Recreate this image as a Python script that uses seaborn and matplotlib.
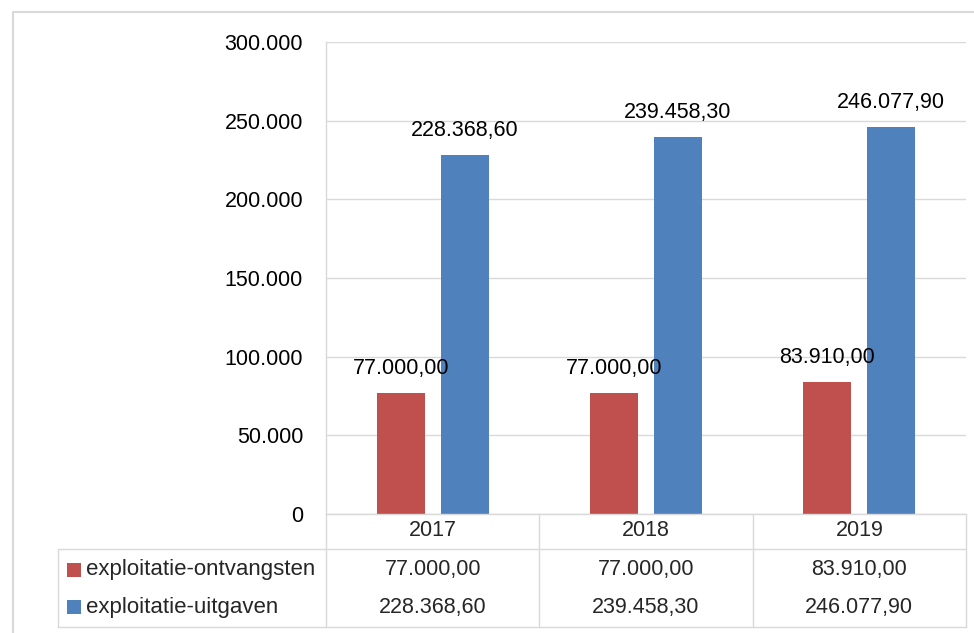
import matplotlib
matplotlib.use("Agg")
import matplotlib.pyplot as plt
import matplotlib.transforms as mtransforms
from matplotlib.lines import Line2D
from matplotlib.patches import Rectangle
import seaborn as sns
import pandas as pd

# Data
years = ["2017", "2018", "2019"]
series_names = ["exploitatie-ontvangsten", "exploitatie-uitgaven"]
ontvangsten = [77000.00, 77000.00, 83910.00]
uitgaven = [228368.60, 239458.30, 246077.90]
colors = ["#C0504D", "#4F81BD"]
y_ticks = [0, 50000, 100000, 150000, 200000, 250000, 300000]

W, H = 974, 633
GRID = "#d9d9d9"
FS = 15.5


def nl(v, dec=2):
    # Dutch number format: 228.368,60
    s = f"{v:,.{dec}f}"
    return s.replace(",", "X").replace(".", ",").replace("X", ".")


sns.set_theme(style="white")
plt.rcParams["font.family"] = ["Liberation Sans", "DejaVu Sans"]

df = pd.DataFrame(
    {
        "year": years * 2,
        "series": [series_names[0]] * len(years) + [series_names[1]] * len(years),
        "value": ontvangsten + uitgaven,
    }
)

fig = plt.figure(figsize=(W / 100, H / 100), dpi=100)
ax = fig.add_axes([326 / W, (H - 514) / H, (966 - 326) / W, (514 - 42) / H])

sns.barplot(
    data=df,
    x="year",
    y="value",
    hue="series",
    order=years,
    hue_order=series_names,
    palette=colors,
    width=0.6,
    gap=0.25,
    saturation=1,
    errorbar=None,
    linewidth=0,
    legend=False,
    ax=ax,
)

ax.set_xlim(-0.5, len(years) - 0.5)
ax.set_ylim(0, 300000)
ax.set_yticks(y_ticks)
ax.set_yticklabels([nl(v, 0) for v in y_ticks])
ax.tick_params(axis="y", length=0, pad=16.5, labelsize=FS, labelcolor="black")
ax.set_xticks([])
ax.set_xlabel("")
ax.set_ylabel("")
ax.yaxis.grid(True, color=GRID, linewidth=1.0)
ax.set_axisbelow(True)
for side in ["top", "right"]:
    ax.spines[side].set_visible(False)
for side in ["left", "bottom"]:
    ax.spines[side].set_color(GRID)
    ax.spines[side].set_linewidth(1.0)

# value labels above bars
for cont, vals in zip(ax.containers, [ontvangsten, uitgaven]):
    ax.bar_label(cont, labels=[nl(v) for v in vals], padding=10, fontsize=FS, color="black")

# pixel transform (y downwards)
px = mtransforms.Affine2D().scale(1 / W, -1 / H).translate(0, 1) + fig.transFigure
colx = mtransforms.blended_transform_factory(ax.transData, px)


def line(xs, ys, tr=px):
    fig.add_artist(Line2D(xs, ys, transform=tr, color=GRID, linewidth=1.0))


# data table
for i in range(len(years)):
    line([i + 0.5, i + 0.5], [514, 627], colx)
line([-0.5, -0.5], [514, 627], colx)
line([58, 966], [549, 549])
line([58, 966], [627, 627])
line([58, 58], [549, 627])

row_y = [570, 607]
for i, yr in enumerate(years):
    fig.text(i, 531, yr, transform=colx, ha="center", va="center", fontsize=FS)
    fig.text(i, row_y[0], nl(ontvangsten[i]), transform=colx, ha="center", va="center", fontsize=FS)
    fig.text(i, row_y[1], nl(uitgaven[i]), transform=colx, ha="center", va="center", fontsize=FS)

for name, c, y in zip(series_names, colors, row_y):
    # y axis of px points down, so anchor at the top of the key
    fig.add_artist(Rectangle((67, y - 7), 14, 14, transform=px, facecolor=c, edgecolor="none"))
    fig.text(86, y, name, transform=px, ha="left", va="center", fontsize=16)

# outer chart border
fig.add_artist(Line2D([13, 13, W], [H, 12, 12], transform=px, color=GRID, linewidth=1.5))

fig.savefig("out.png", dpi=100, facecolor="white")
